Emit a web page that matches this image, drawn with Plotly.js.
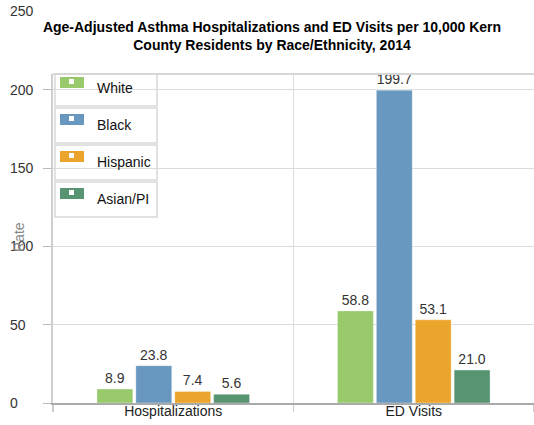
<!DOCTYPE html>
<html>
<head>
<meta charset="utf-8">
<script src="https://cdn.plot.ly/plotly-3.0.1.min.js"></script>
<style>html,body{margin:0;padding:0;background:#fff;}#chart{width:534px;height:425px;}</style>
</head>
<body>
<div id="chart"></div>
<script>
const categories = ['Hospitalizations', 'ED Visits'];
const seriesNames = ['White', 'Black', 'Hispanic', 'Asian/PI'];
const whiteVals = [8.9, 58.8];
const blackVals = [23.8, 199.7];
const hispanicVals = [7.4, 53.1];
const asianVals = [5.6, 21.0];
const seriesColors = ['#98CA6C', '#6897C0', '#ECA52C', '#579471'];
const yTickVals = [0, 50, 100, 150, 200, 250];
const yRange = [0, 210];
const yTitle = 'Rate';
const chartTitle = '<b>Age-Adjusted Asthma Hospitalizations and ED Visits per 10,000 Kern<br>County Residents by Race/Ethnicity, 2014</b>';

const W = 534, H = 425;
const L = 53, R = 0, T = 74, B = 22;
const pw = W - L - R, ph = H - T - B;
const px2x = p => (p - L) / pw;
const py2y = p => (H - B - p) / ph;

const FONT = 'Liberation Sans, Arial, sans-serif';
const allVals = [whiteVals, blackVals, hispanicVals, asianVals];

const traces = seriesNames.map((name, i) => ({
  type: 'bar',
  name: name,
  x: categories,
  y: allVals[i],
  marker: {color: seriesColors[i], line: {color: 'rgba(255,255,255,0.35)', width: 1}},
  text: allVals[i].map(v => v.toFixed(1)),
  textposition: 'outside',
  textfont: {family: FONT, size: 14, color: '#333'},
  cliponaxis: false,
  hoverinfo: 'none',
  showlegend: false
}));

const shapes = [];
const annotations = [];

// top border
shapes.push({type: 'line', xref: 'paper', yref: 'paper', x0: 0, x1: 1, y0: 1, y1: 1,
  line: {color: '#d6d6d6', width: 2}});

// custom legend
seriesNames.forEach((name, i) => {
  const top = 71 + 37 * i;
  const boxTop = Math.max(top, 74);
  shapes.push({type: 'rect', xref: 'paper', yref: 'paper',
    x0: px2x(55), x1: px2x(157), y0: py2y(boxTop), y1: py2y(top + 35),
    line: {color: '#d9d9d9', width: 1.5}, fillcolor: 'rgba(0,0,0,0)'});
  shapes.push({type: 'rect', xref: 'paper', yref: 'paper',
    x0: px2x(60), x1: px2x(84), y0: py2y(top + 6), y1: py2y(top + 17),
    line: {width: 0}, fillcolor: seriesColors[i]});
  shapes.push({type: 'rect', xref: 'paper', yref: 'paper',
    x0: px2x(69), x1: px2x(74), y0: py2y(top + 8), y1: py2y(top + 13),
    line: {width: 0}, fillcolor: '#ffffff'});
  annotations.push({xref: 'paper', yref: 'paper', x: px2x(95), y: py2y(top + 17),
    xanchor: 'left', yanchor: 'middle', text: name, showarrow: false,
    font: {family: FONT, size: 14, color: '#111'}});
});

// y tick labels (left aligned); paper position from the axis range so the 250 label (above the plot) still shows
yTickVals.forEach(v => {
  annotations.push({xref: 'paper', yref: 'paper', x: px2x(8), y: (v - yRange[0]) / (yRange[1] - yRange[0]),
    xanchor: 'left', yanchor: 'middle',
    text: String(v), showarrow: false, font: {family: FONT, size: 14, color: '#333'}});
});

// y axis title
annotations.push({xref: 'paper', yref: 'paper', x: px2x(19), y: py2y(237), xanchor: 'center', yanchor: 'middle',
  text: yTitle, textangle: -90, showarrow: false, font: {family: FONT, size: 14, color: '#888'}});

const layout = {
  width: W, height: H,
  margin: {l: L, r: R, t: T, b: B, pad: 0},
  paper_bgcolor: '#fff', plot_bgcolor: '#fff',
  font: {family: FONT, size: 14, color: '#333'},
  title: {text: chartTitle, font: {family: FONT, size: 14, color: '#000'},
    x: 272 / W, xref: 'container', xanchor: 'center', y: 1 - 32 / H, yref: 'container', yanchor: 'top'},
  barmode: 'group',
  bargap: 0.353,
  bargroupgap: 0.077,
  xaxis: {
    type: 'category', showgrid: true, gridcolor: '#dcdcdc', gridwidth: 1.5, tickson: 'boundaries',
    ticks: 'outside', ticklen: 7, tickcolor: '#cccccc', tickwidth: 1.5,
    showline: true, linecolor: '#aaaaaa', linewidth: 1.5,
    tickfont: {family: FONT, size: 14, color: '#222'}, ticklabelstandoff: -5,
    fixedrange: true, zeroline: false
  },
  yaxis: {
    range: yRange, tickvals: [0, 50, 100, 150, 200], showticklabels: false,
    showgrid: true, gridcolor: '#dcdcdc', gridwidth: 1,
    ticks: 'outside', ticklen: 8, tickcolor: '#bbbbbb',
    showline: true, linecolor: '#cfcfcf', linewidth: 2,
    zeroline: false, fixedrange: true
  },
  shapes: shapes,
  annotations: annotations
};

Plotly.newPlot('chart', traces, layout, {displayModeBar: false, staticPlot: true});
</script>
</body>
</html>
